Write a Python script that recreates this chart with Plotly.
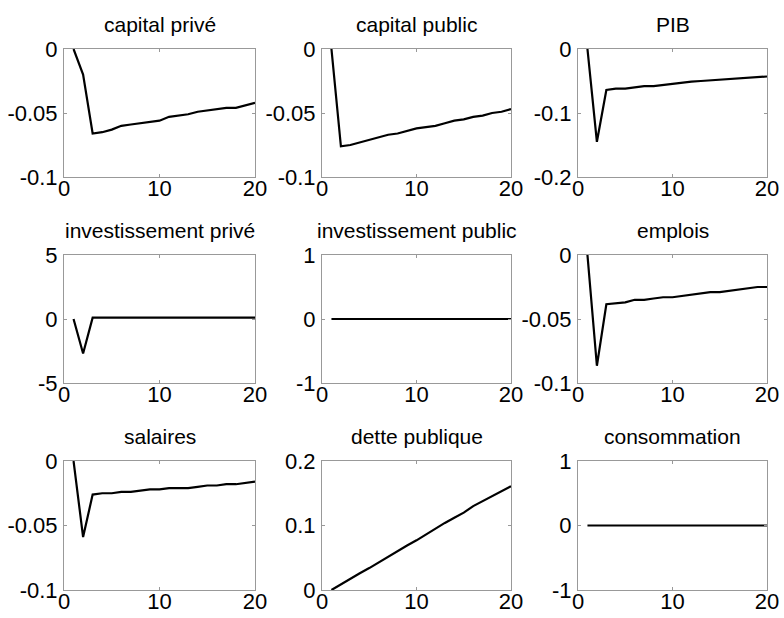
import plotly.graph_objects as go

periods = list(range(1, 21))

titles = ["capital privé", "capital public", "PIB",
          "investissement privé", "investissement public", "emplois",
          "salaires", "dette publique", "consommation"]

capital_prive = [0.0, -0.020, -0.066, -0.065, -0.063, -0.060, -0.059, -0.058, -0.057, -0.056,
                 -0.053, -0.052, -0.051, -0.049, -0.048, -0.047, -0.046, -0.046, -0.044, -0.042]
capital_public = [0.0, -0.076, -0.075, -0.073, -0.071, -0.069, -0.067, -0.066, -0.064, -0.062,
                  -0.061, -0.060, -0.058, -0.056, -0.055, -0.053, -0.052, -0.050, -0.049, -0.047]
pib = [0.0, -0.145, -0.064, -0.062, -0.062, -0.060, -0.058, -0.058, -0.056, -0.055,
       -0.053, -0.051, -0.050, -0.049, -0.047, -0.047, -0.046, -0.045, -0.044, -0.043]
invest_prive = [0.0, -2.7, 0.1, 0.1, 0.1, 0.1, 0.1, 0.1, 0.1, 0.1,
                0.1, 0.1, 0.1, 0.1, 0.1, 0.1, 0.1, 0.1, 0.1, 0.1]
invest_public = [0.0] * 20
emplois = [0.0, -0.0865, -0.0385, -0.038, -0.037, -0.035, -0.035, -0.034, -0.033, -0.033,
           -0.032, -0.031, -0.030, -0.029, -0.029, -0.028, -0.027, -0.026, -0.025, -0.025]
salaires = [0.0, -0.059, -0.026, -0.025, -0.025, -0.024, -0.024, -0.023, -0.022, -0.022,
            -0.021, -0.021, -0.021, -0.020, -0.019, -0.019, -0.018, -0.018, -0.017, -0.016]
dette_publique = [0.0, 0.009, 0.017, 0.026, 0.034, 0.043, 0.052, 0.060, 0.069, 0.077,
                  0.086, 0.096, 0.104, 0.112, 0.120, 0.130, 0.138, 0.145, 0.153, 0.161]
consommation = [0.0] * 20

series = [capital_prive, capital_public, pib, invest_prive, invest_public, emplois,
          salaires, dette_publique, consommation]

y_ranges = [[-0.1, 0], [-0.1, 0], [-0.2, 0],
            [-5, 5], [-1, 1], [-0.1, 0],
            [-0.1, 0], [0, 0.2], [-1, 1]]
y_ticks = [[-0.1, -0.05, 0], [-0.1, -0.05, 0], [-0.2, -0.1, 0],
           [-5, 0, 5], [-1, 0, 1], [-0.1, -0.05, 0],
           [-0.1, -0.05, 0], [0, 0.1, 0.2], [-1, 0, 1]]
y_ticktext = [["-0.1", "-0.05", "0"], ["-0.1", "-0.05", "0"], ["-0.2", "-0.1", "0"],
              ["-5", "0", "5"], ["-1", "0", "1"], ["-0.1", "-0.05", "0"],
              ["-0.1", "-0.05", "0"], ["0", "0.1", "0.2"], ["-1", "0", "1"]]
x_ticks = [0, 10, 20]

W, H = 784, 618
col_px = [(64, 255), (322, 511), (578, 767)]
row_px = [(49, 177), (255, 383), (461, 590)]

fig = go.Figure()
font = "Liberation Sans, Arial, sans-serif"
annotations = []
for i in range(9):
    r, c = divmod(i, 3)
    n = "" if i == 0 else str(i + 1)
    xd = [col_px[c][0] / W, col_px[c][1] / W]
    yd = [1 - row_px[r][1] / H, 1 - row_px[r][0] / H]
    fig.add_trace(go.Scatter(x=periods, y=series[i], mode="lines",
                             line=dict(color="black", width=2.2),
                             xaxis="x" + n, yaxis="y" + n, showlegend=False))
    axcommon = dict(showgrid=False, zeroline=False, showline=True, mirror="ticks",
                    automargin=False,
                    linecolor="#999999", linewidth=1, ticks="inside", ticklen=3,
                    tickcolor="#999999", tickfont=dict(family=font, size=22, color="black"))
    fig.layout["xaxis" + n] = dict(domain=xd, range=[0, 20], tickvals=x_ticks,
                                   anchor="y" + n, ticklabelstandoff=-8, **axcommon)
    fig.layout["yaxis" + n] = dict(domain=yd, range=y_ranges[i], tickvals=y_ticks[i],
                                   ticktext=y_ticktext[i], anchor="x" + n,
                                   ticklabelstandoff=1, **axcommon)
    annotations.append(dict(text=titles[i], x=(xd[0] + xd[1]) / 2, y=yd[1],
                            xref="paper", yref="paper", xanchor="center", yanchor="middle",
                            yshift=25, showarrow=False,
                            font=dict(family=font, size=21, color="black")))

fig.update_layout(width=W, height=H, margin=dict(l=0, r=0, t=0, b=0),
                  paper_bgcolor="white", plot_bgcolor="white", template="none",
                  annotations=annotations, showlegend=False)
fig.write_html("out.html", config={"displayModeBar": False},
               post_script="document.body.style.margin='0';document.body.style.overflow='hidden';")
